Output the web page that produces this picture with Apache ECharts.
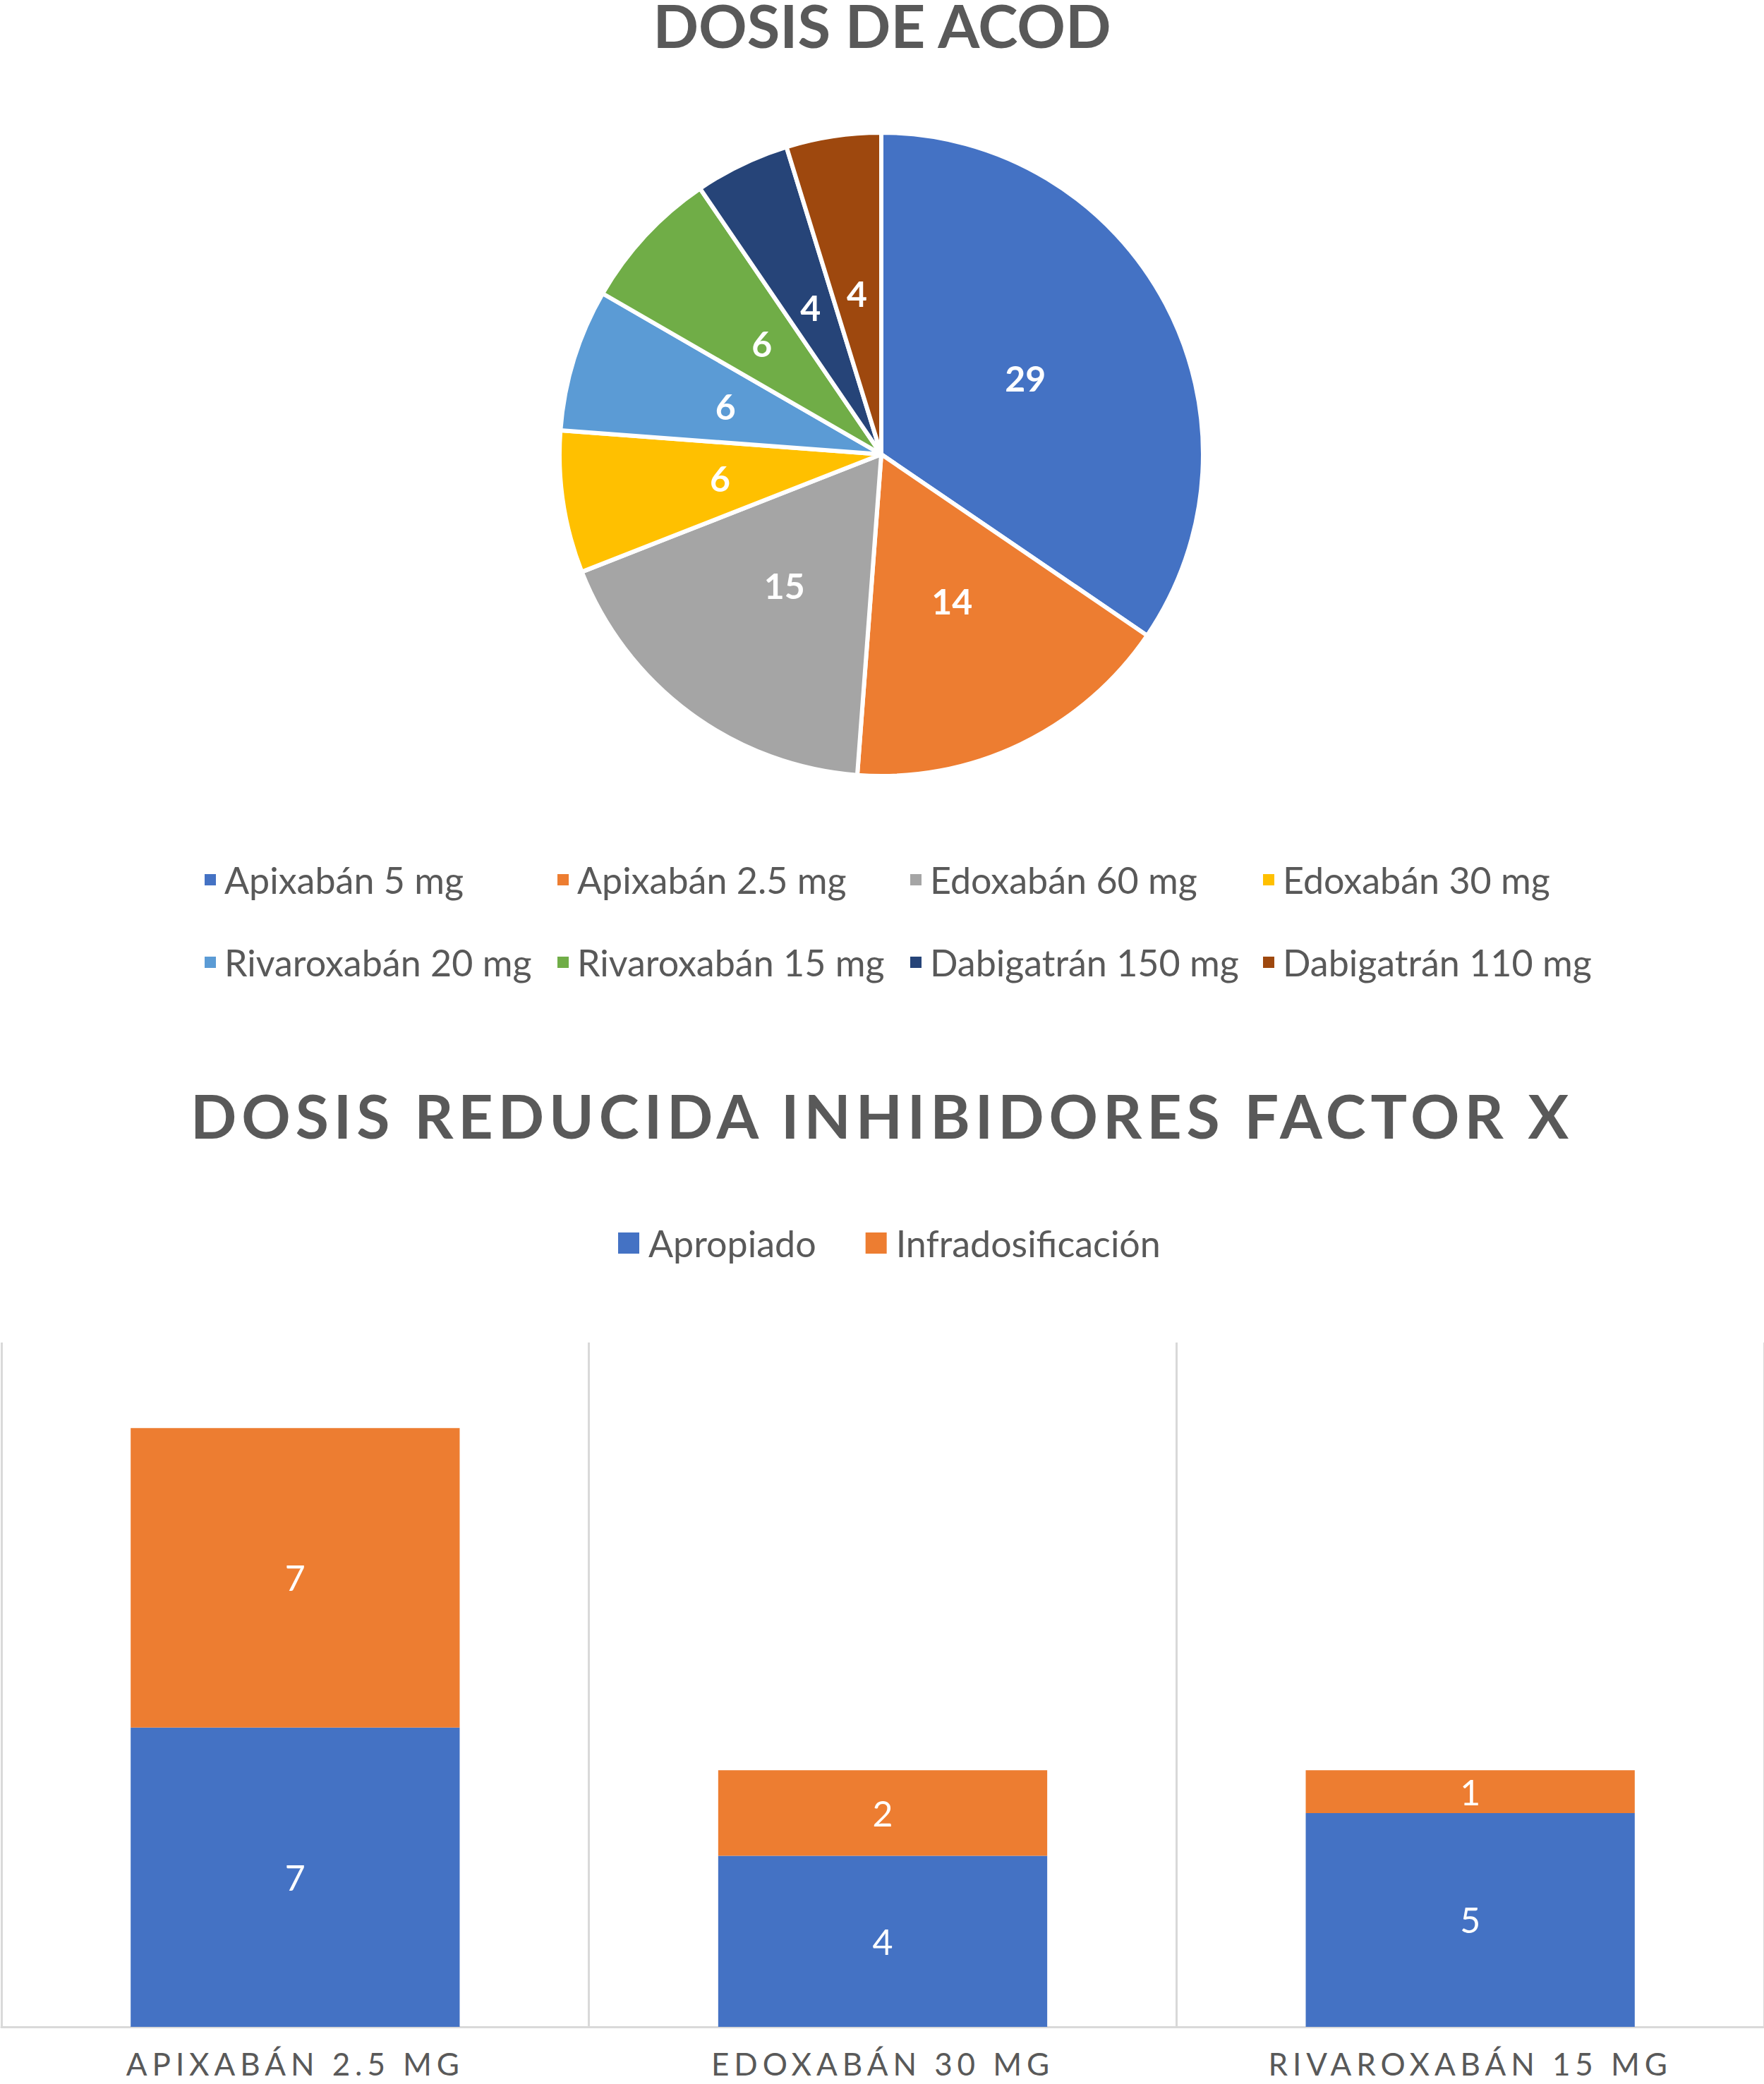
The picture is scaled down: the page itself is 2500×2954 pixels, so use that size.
<!DOCTYPE html>
<html>
<head>
<meta charset="utf-8">
<script src="https://cdn.jsdelivr.net/npm/echarts@6/dist/echarts.min.js"></script>
<style>
html,body{margin:0;padding:0;background:#fff;}
#chart{width:2500px;height:2954px;}
</style>
</head>
<body>
<div id="chart"></div>
<script>
// ---- data ----
const pieTitle = 'DOSIS DE ACOD';
const pieNames = ['Apixabán 5 mg','Apixabán 2.5 mg','Edoxabán 60 mg','Edoxabán 30 mg','Rivaroxabán 20 mg','Rivaroxabán 15 mg','Dabigatrán 150 mg','Dabigatrán 110 mg'];
const pieValues = [29,14,15,6,6,6,4,4];
const pieColors = ['#4472C4','#ED7D31','#A5A5A5','#FFC000','#5B9BD5','#70AD47','#264478','#9E480E'];

const barTitle = 'DOSIS REDUCIDA INHIBIDORES FACTOR X';
const barCategories = ['APIXABÁN 2.5 MG','EDOXABÁN 30 MG','RIVAROXABÁN 15 MG'];
const seriesNames = ['Apropiado','Infradosificación'];
const apropiado = [7,4,5];
const infradosificacion = [7,2,1];
const barColors = ['#4472C4','#ED7D31'];

const FONT = 'Lato';
const GRAY = '#595959';

const chart = echarts.init(document.getElementById('chart'), null, {renderer:'svg'});

const pieData = pieNames.map((n,i)=>({name:n,value:pieValues[i],itemStyle:{color:pieColors[i]}}));

const pieLegendCommon = {
  left: 288,
  orient: 'horizontal',
  padding: 0,
  itemWidth: 18,
  itemHeight: 18,
  itemGap: 30,
  icon: 'rect',
  selectedMode: false,
  textStyle: {fontFamily: FONT, fontSize: 52, color: GRAY, width: 440, lineHeight: 62, padding:[0,0,0,6]}
};

const option = {
  animation: false,
  backgroundColor: '#fff',
  textStyle: {fontFamily: FONT},
  title: [
    {text: pieTitle, left: 'center', top: -9, padding: 0,
     textStyle:{fontFamily: FONT, fontWeight:'bold', fontSize: 85, lineHeight: 88, color: GRAY}},
    {text: barTitle, left: 'center', top: 1536, padding: 0,
     textStyle:{fontFamily: FONT, fontWeight:'bold', fontSize: 86, lineHeight: 88, color: GRAY}}
  ],
  legend: [
    Object.assign({}, pieLegendCommon, {top: 1216, data: pieNames.slice(0,4)}),
    Object.assign({}, pieLegendCommon, {top: 1333, data: pieNames.slice(4)}),
    {left: 876, top: 1731, padding: 0, itemWidth: 30, itemHeight: 30, itemGap: 70, icon:'rect', selectedMode:false,
     data: seriesNames,
     textStyle:{fontFamily: FONT, fontSize: 52, color: GRAY, lineHeight: 62, padding:[0,0,0,8]}}
  ],
  grid: {left: 2, right: -1, top: 1903, bottom: 81, containLabel: false},
  xAxis: {
    type: 'category',
    data: barCategories,
    axisLine: {show: true, lineStyle: {color: '#D9D9D9', width: 3}},
    axisTick: {show: false},
    splitLine: {show: true, lineStyle: {color: '#D9D9D9', width: 3}},
    axisLabel: {fontFamily: FONT, fontSize: 44, lineHeight: 44, color: GRAY, margin: 30}
  },
  yAxis: {type: 'value', min: 0, max: 16, show: false, splitLine:{show:false}},
  series: [
    {
      type: 'pie',
      legendIndex: 0,
      center: [1249, 644],
      radius: 456,
      startAngle: 90,
      clockwise: true,
      avoidLabelOverlap: false,
      itemStyle: {borderColor: '#fff', borderWidth: 6},
      label: {show: true, position: 'inside', formatter: '{c}', color: '#fff', fontFamily: FONT, fontWeight: 'bold', fontSize: 50},
      labelLine: {show: false},
      emphasis: {disabled: true},
      data: pieData
    },
    {
      name: seriesNames[0], type: 'bar', stack: 'total', data: apropiado, barWidth: '56%',
      itemStyle: {color: barColors[0]},
      label: {show: true, position: 'inside', color: '#fff', fontFamily: FONT, fontSize: 50},
      emphasis: {disabled: true}
    },
    {
      name: seriesNames[1], type: 'bar', stack: 'total', data: infradosificacion, barWidth: '56%',
      itemStyle: {color: barColors[1]},
      label: {show: true, position: 'inside', color: '#fff', fontFamily: FONT, fontSize: 50},
      emphasis: {disabled: true}
    }
  ]
};

chart.setOption(option);

function applySpacing(){
  const texts = Array.from(document.querySelectorAll('#chart svg text'));
  const tt = texts.find(t => t.textContent === barTitle);
  if (tt) {
    tt.style.letterSpacing = '0px';
    const w = tt.getComputedTextLength();
    const ls = (1960 - w) / (barTitle.length);
    tt.style.letterSpacing = Math.max(0, ls).toFixed(2) + 'px';
  }
  const labs = texts.filter(t => barCategories.indexOf(t.textContent) >= 0);
  const first = labs.find(t => t.textContent === barCategories[0]);
  if (first) {
    first.style.letterSpacing = '0px';
    const w = first.getComputedTextLength();
    const ls = Math.max(0, (479 - w) / barCategories[0].length);
    labs.forEach(t => { t.style.letterSpacing = ls.toFixed(2) + 'px'; });
  }
}
applySpacing();
chart.on('finished', applySpacing);
</script>
</body>
</html>
